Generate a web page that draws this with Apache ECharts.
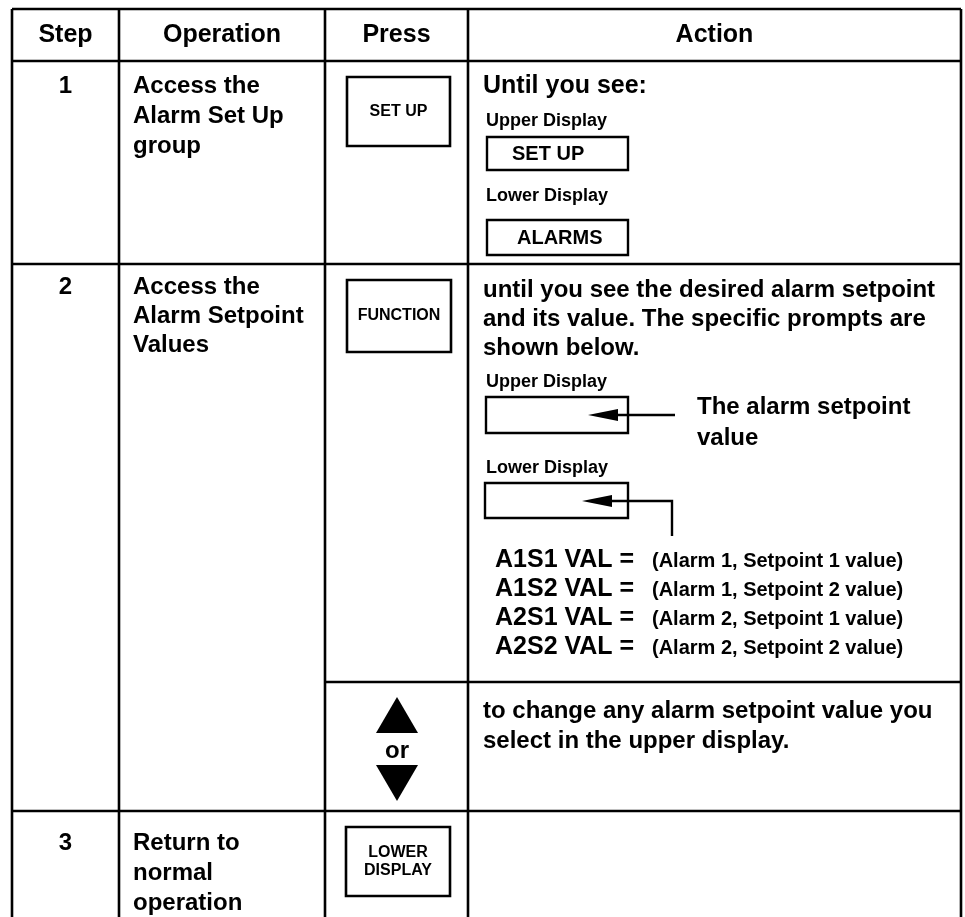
<!DOCTYPE html>
<html><head><meta charset="utf-8">
<script src="https://cdn.jsdelivr.net/npm/echarts@6/dist/echarts.min.js"></script>
<style>html,body{margin:0;padding:0;background:#fff}#c{width:965px;height:917px}</style>
</head><body><div id="c"></div>
<script>
// ---- content ----
const headers = ['Step', 'Operation', 'Press', 'Action'];
const steps = ['1', '2', '3'];
const operations = [
  ['Access the', 'Alarm Set Up', 'group'],
  ['Access the', 'Alarm Setpoint', 'Values'],
  ['Return to', 'normal', 'operation']
];
const pressKeys = [['SET UP'], ['FUNCTION'], ['LOWER', 'DISPLAY']];
const action1 = ['Until you see:'];
const displayLabels = ['Upper Display', 'Lower Display'];
const displayValues = ['SET UP', 'ALARMS'];
const action2 = ['until you see the desired alarm setpoint', 'and its value. The specific prompts are', 'shown below.'];
const pointerLabel = ['The alarm setpoint', 'value'];
const setpointCodes = ['A1S1 VAL =', 'A1S2 VAL =', 'A2S1 VAL =', 'A2S2 VAL ='];
const setpointDescs = ['(Alarm 1, Setpoint 1 value)', '(Alarm 1, Setpoint 2 value)', '(Alarm 2, Setpoint 1 value)', '(Alarm 2, Setpoint 2 value)'];
const arrowKeysLabel = 'or';
const action2b = ['to change any alarm setpoint value you', 'select in the upper display.'];

// ---- layout ----
const FAM = '"Liberation Sans", Arial, Helvetica, sans-serif';
const NARROW = '"Liberation Sans Narrow", "Arial Narrow", "Liberation Sans", sans-serif';
const X = { left: 12, c1: 119, c2: 325, c3: 468, right: 961 };
const Y = { top: 9, head: 61, r1: 264, sub: 682, r2: 811, bottom: 917 };
const LW = 2.6;

const els = [];
function line(x1, y1, x2, y2, w) {
  els.push({ type: 'line', shape: { x1, y1, x2, y2 }, style: { stroke: '#000', lineWidth: w || LW }, silent: true });
}
function rect(x, y, w, h, lw) {
  els.push({ type: 'rect', shape: { x, y, width: w, height: h }, style: { fill: 'none', stroke: '#000', lineWidth: lw || 2.4 }, silent: true });
}
function poly(points) {
  els.push({ type: 'polygon', shape: { points }, style: { fill: '#000' }, silent: true });
}
function text(t, x, y, size, align, fam, weight) {
  els.push({
    type: 'text', x, y, silent: true,
    style: {
      text: t, fill: '#000',
      font: (weight || 'bold') + ' ' + size + 'px ' + (fam || FAM),
      align: align || 'left', textAlign: align || 'left',
      verticalAlign: 'middle', textVerticalAlign: 'middle'
    }
  });
}
function lines(arr, x, y0, dy, size, align, fam) {
  arr.forEach((t, i) => text(t, x, y0 + i * dy, size, align, fam));
}

// grid lines
line(X.left, Y.top, X.right, Y.top);
line(X.left, Y.head, X.right, Y.head);
line(X.left, Y.r1, X.right, Y.r1);
line(X.c2, Y.sub, X.right, Y.sub);
line(X.left, Y.r2, X.right, Y.r2);
[X.left, X.c1, X.c2, X.c3, X.right].forEach(x => line(x, Y.top, x, Y.bottom));

// header
const colCenters = [(X.left + X.c1) / 2, (X.c1 + X.c2) / 2, (X.c2 + X.c3) / 2, (X.c3 + X.right) / 2];
headers.forEach((h, i) => text(h, colCenters[i], 35, 25, 'center'));

// step numbers and operations
const rowFirst = [86, 287, 843];
const rowDy = [30, 29, 30];
steps.forEach((s, i) => text(s, colCenters[0], rowFirst[i], 24, 'center'));
operations.forEach((op, i) => lines(op, 133, rowFirst[i], rowDy[i], 24, 'left'));

// press keys
const keyBoxes = [[347, 77, 103, 69], [347, 280, 104, 72], [346, 827, 104, 69]];
keyBoxes.forEach((b, i) => {
  rect(b[0], b[1], b[2], b[3], 2.6);
  const k = pressKeys[i];
  const cy = b[1] + b[3] / 2;
  k.forEach((t, j) => text(t, b[0] + b[2] / 2, cy + (j - (k.length - 1) / 2) * 18, 16, 'center', NARROW));
});

// arrow keys
poly([[397, 697], [418, 733], [376, 733]]);
text(arrowKeysLabel, 397, 751, 24, 'center');
poly([[376, 765], [418, 765], [397, 801]]);

// Action row 1
lines(action1, 483, 86, 29, 25, 'left');
text(displayLabels[0], 486, 121, 18, 'left');
rect(487, 137, 141, 33);
text(displayValues[0], 512, 154, 20, 'left');
text(displayLabels[1], 486, 196, 18, 'left');
rect(487, 220, 141, 35);
text(displayValues[1], 517, 238, 20, 'left');

// Action row 2
lines(action2, 483, 290, 29, 24, 'left');
text(displayLabels[0], 486, 382, 18, 'left');
rect(486, 397, 142, 36);
line(614, 415, 675, 415, 2.4);
poly([[588, 415], [618, 409], [618, 421]]);
lines(pointerLabel, 697, 407, 31, 24, 'left');
text(displayLabels[1], 486, 468, 18, 'left');
rect(485, 483, 143, 35);
poly([[582, 501], [612, 495], [612, 507]]);
els.push({ type: 'polyline', shape: { points: [[608, 501], [672, 501], [672, 536]] }, style: { stroke: '#000', lineWidth: 2.4, fill: null }, silent: true });
setpointCodes.forEach((c, i) => {
  const y = 560 + i * 29;
  text(c, 495, y, 25, 'left');
  text(setpointDescs[i], 652, y + 1, 20, 'left');
});
lines(action2b, 483, 711, 30, 24, 'left');

const chart = echarts.init(document.getElementById('c'), null, { renderer: 'canvas' });
chart.setOption({ backgroundColor: '#fff', animation: false, graphic: { elements: els } });
</script>
</body></html>
